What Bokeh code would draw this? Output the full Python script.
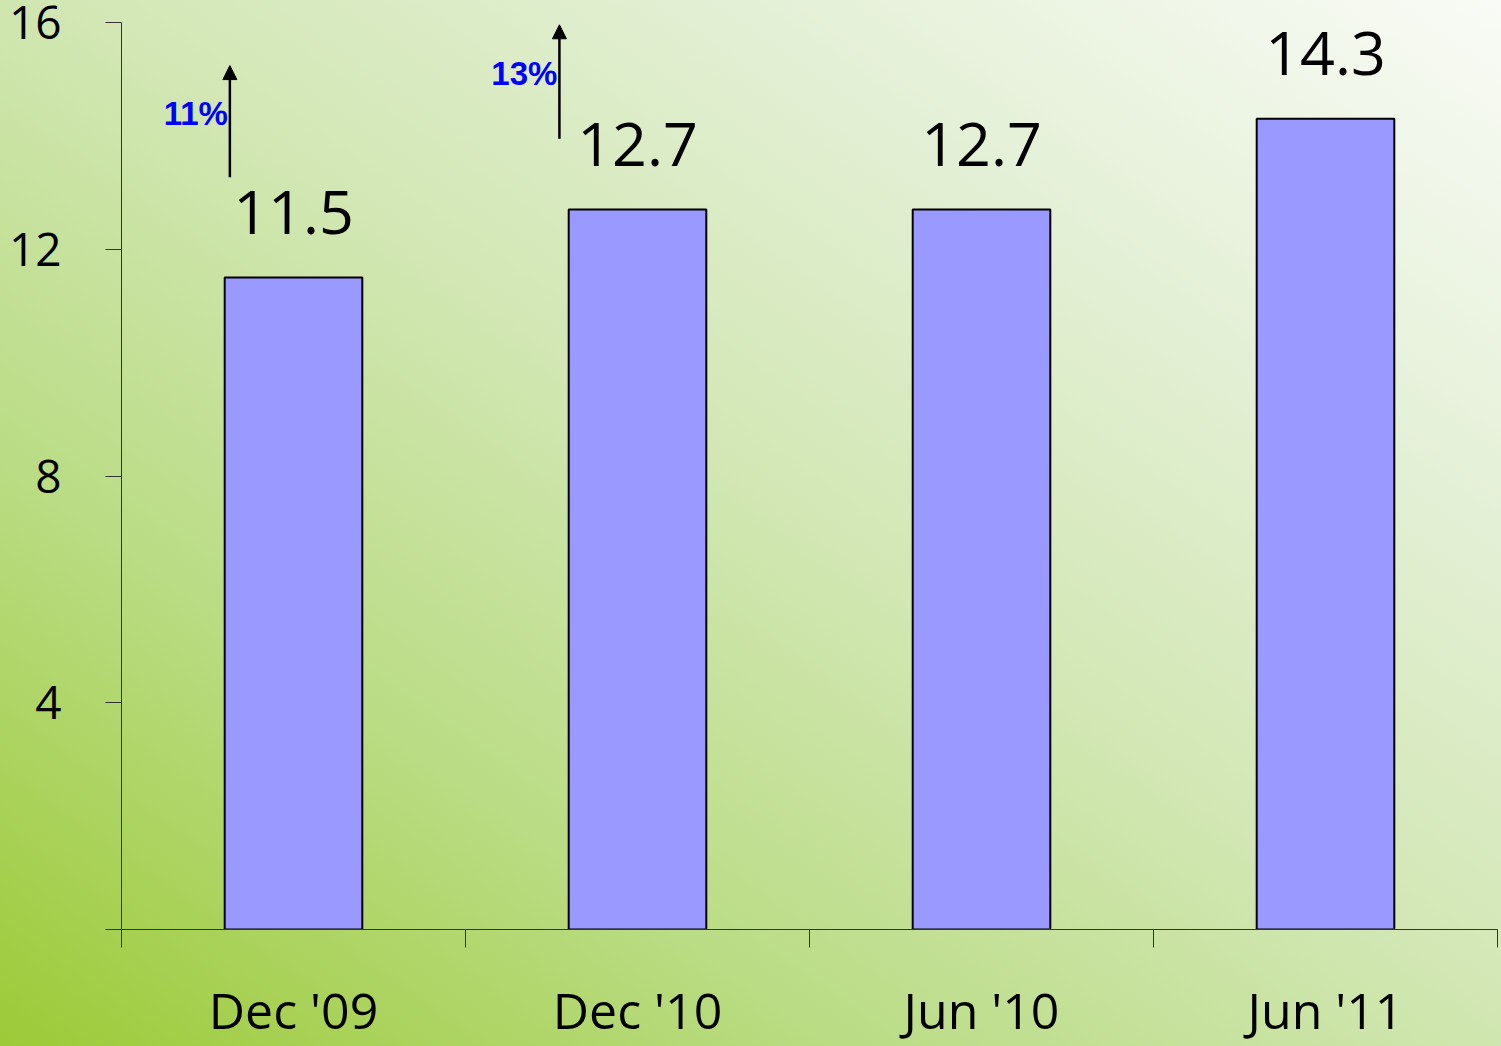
from bokeh.plotting import figure
from bokeh.models import (ColumnDataSource, FixedTicker, LabelSet, Label, Arrow,
                          NormalHead, Range1d, GlobalInlineStyleSheet)
from bokeh.core.properties import value
from bokeh.embed import file_html
from bokeh.resources import INLINE

# ---- data ----
categories = ["Dec '09", "Dec '10", "Jun '10", "Jun '11"]
values = [11.5, 12.7, 12.7, 14.3]
value_labels = ["11.5", "12.7", "12.7", "14.3"]
y_ticks = [0, 4, 8, 12, 16]
growth_labels = ["11%", "13%"]
growth_bars = [0, 1]

# ---- layout / style constants ----
W, H = 1501, 1046
x_pos = [i + 0.5 for i in range(len(categories))]
x_bounds = list(range(len(categories) + 1))
arrow_dx = [-0.185, -0.227]
arrow_y0 = [13.27, 13.95]
arrow_y1 = [15.24, 15.96]
label_frac = 0.57

p = figure(width=W, height=H, output_backend="svg", toolbar_location=None,
           x_range=Range1d(0, len(categories)), y_range=Range1d(0, 16),
           min_border_left=121, min_border_top=22, min_border_bottom=117,
           min_border_right=4)
p.title.visible = False
p.background_fill_color = None
p.border_fill_color = None
p.outline_line_color = None
p.xgrid.visible = False
p.ygrid.visible = False

p.stylesheets = [GlobalInlineStyleSheet(css=(
    "html{height:100%;background:linear-gradient(to top right,"
    "rgb(156,202,55) 0%,rgb(186,220,132) 28%,rgb(210,231,180) 52%,"
    "rgb(228,240,214) 75%,rgb(249,251,246) 100%);}"))]

axis_col = "#333333"
# x axis: labels at category centres, ticks (minor) at category boundaries
xa = p.xaxis[0]
xa.ticker = FixedTicker(ticks=x_pos, minor_ticks=x_bounds)
xa.major_tick_out = 0
xa.major_tick_in = 0
xa.major_tick_line_color = None
xa.minor_tick_out = 18
xa.minor_tick_in = 0
xa.minor_tick_line_color = axis_col
xa.major_label_overrides = {x: c for x, c in zip(x_pos, categories)}
xa.major_label_standoff = 28
xa.major_label_text_font = "Open Sans"
xa.major_label_text_font_size = "50px"
xa.major_label_text_color = "black"
xa.axis_line_color = axis_col

ya = p.yaxis[0]
ya.ticker = FixedTicker(ticks=y_ticks)
ya.major_tick_out = 16
ya.major_tick_in = 0
ya.minor_tick_line_color = None
ya.major_label_overrides = {0: ""}
ya.major_label_standoff = 44
ya.major_label_text_font = "Open Sans"
ya.major_label_text_font_size = "46px"
ya.major_label_text_color = "black"
ya.axis_line_color = axis_col
ya.major_tick_line_color = axis_col

src = ColumnDataSource(dict(x=x_pos, top=values, label=value_labels))

p.vbar(x="x", top="top", width=0.4, source=src, fill_color="#9999FF",
       line_color="black", line_width=2)

p.add_layout(LabelSet(x="x", y="top", text="label", source=src,
                      text_align="center", text_baseline="alphabetic",
                      y_offset=44, text_font=value("Open Sans"),
                      text_font_size=value("61px"), text_color="black"))

for k, (bi, lbl) in enumerate(zip(growth_bars, growth_labels)):
    ax = x_pos[bi] + arrow_dx[k]
    p.add_layout(Arrow(end=NormalHead(size=14, fill_color="black", line_color="black"),
                       x_start=ax, y_start=arrow_y0[k], x_end=ax, y_end=arrow_y1[k],
                       line_width=2.5, line_color="black"))
    ly = arrow_y0[k] + label_frac * (arrow_y1[k] - arrow_y0[k])
    p.add_layout(Label(x=ax, y=ly, text=lbl, text_align="right",
                       text_baseline="middle", x_offset=-2,
                       text_font="Liberation Sans", text_font_style="bold",
                       text_font_size="33px", text_color="#0000FF"))

open("out.html", "w").write(file_html(p, INLINE))
